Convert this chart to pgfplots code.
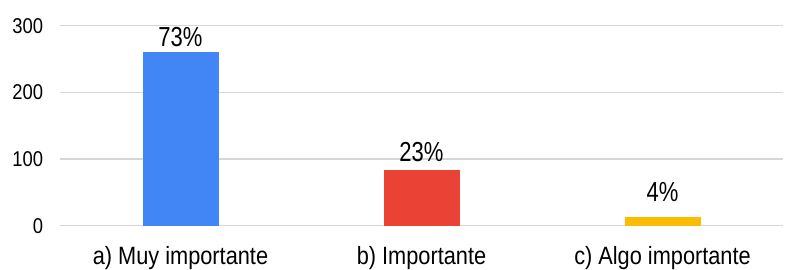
\documentclass[border=0pt]{standalone}
\usepackage{fontspec}
\usepackage{pgfplots}
\pgfplotsset{compat=1.18}
\newfontfamily\tickfont[FakeStretch=0.86]{Liberation Sans}
\newfontfamily\labfont[FakeStretch=0.80]{Liberation Sans}
\newfontfamily\catfont[FakeStretch=0.87]{Liberation Sans}
\definecolor{gblue}{HTML}{4285F4}
\definecolor{gred}{HTML}{EA4335}
\definecolor{gyellow}{HTML}{FBBC04}
\definecolor{gridgray}{HTML}{D6D6D6}
\begin{document}
\begin{tikzpicture}
\begin{axis}[
  at={(60bp,44.3bp)}, anchor=south west,
  scale only axis, width=723bp, height=200bp,
  xmin=-0.5, xmax=2.5, ymin=0, ymax=300,
  ytick={0,100,200,300},
  xtick={0,1,2},
  xticklabels={a) Muy importante, b) Importante, c) Algo importante},
  major tick length=0pt,
  axis line style={draw=none},
  ymajorgrids,
  grid style={gridgray, line width=1.5bp},
  /pgf/number format/assume math mode=true,
  yticklabel style={font=\tickfont\fontsize{21.4bp}{24bp}\selectfont, anchor=east, inner sep=0pt, xshift=-16.7bp},
  xticklabel style={font=\catfont\fontsize{25bp}{28bp}\selectfont, anchor=base, inner sep=0pt, yshift=-38.8bp},
  ybar, bar width=76bp, bar shift=0pt,
  point meta=explicit symbolic,
  nodes near coords,
  nodes near coords style={font=\labfont\fontsize{27.5bp}{30bp}\selectfont, anchor=base, inner sep=0pt, yshift=5.7bp, text=black},
]
\addplot[fill=gblue, draw=none] coordinates {(0,260) [73\%]};
\addplot[fill=gred, draw=none] coordinates {(1,83) [\raisebox{3.3bp}{23\%}]};
\addplot[fill=gyellow, draw=none] coordinates {(2,13) [\raisebox{9.9bp}{4\%}]};
\end{axis}
\pgfresetboundingbox
\path (0,0) rectangle (786bp,270bp);
\end{tikzpicture}
\end{document}
